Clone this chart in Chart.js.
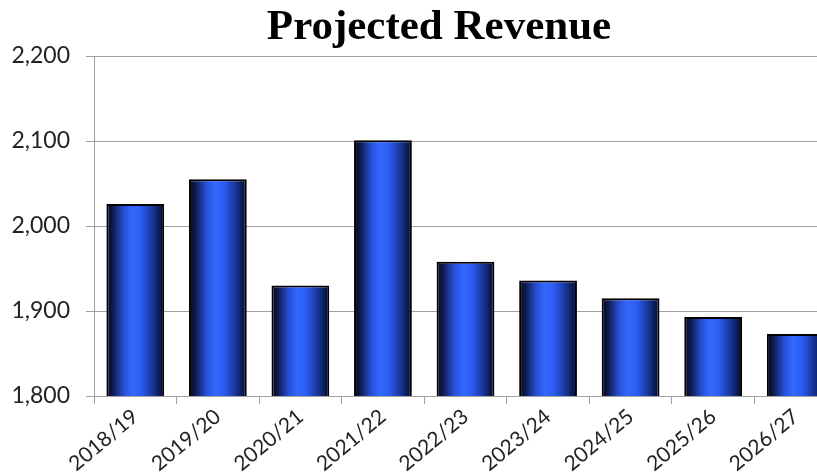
<!DOCTYPE html>
<html>
<head>
<meta charset="utf-8">
<script src="https://cdn.jsdelivr.net/npm/chart.js@4"></script>
<style>
  html, body { margin: 0; padding: 0; background: #fff; overflow: hidden; }
  #wrap { width: 840px; height: 476px; }
</style>
</head>
<body>
<div id="wrap"><canvas id="myChart"></canvas></div>
<script>
const ctx = document.getElementById("myChart");

// data
var years = ["2018/19", "2019/20", "2020/21", "2021/22", "2022/23", "2023/24", "2024/25", "2025/26", "2026/27"];
var revenue = [2026, 2055, 1930, 2101, 1958, 1936, 1915, 1893, 1873];
var yTicks = [1800, 1900, 2000, 2100, 2200];

const titleText = "Projected Revenue";

// bar fill: dark edges, bright blue in the middle
function barFill(context) {
  const chart = context.chart;
  const x = chart.scales.x;
  if (!chart.chartArea || !x) return "#2f5cf0";
  const cx = x.getPixelForValue(context.dataIndex);
  const w = (x.width / years.length) * 0.7;
  const g = chart.ctx.createLinearGradient(cx - w / 2, 0, cx + w / 2, 0);
  g.addColorStop(0, "#03061a");
  g.addColorStop(0.12, "#0f1d58");
  g.addColorStop(0.3, "#2650d8");
  g.addColorStop(0.45, "#3368ff");
  g.addColorStop(0.6, "#2e5cf2");
  g.addColorStop(0.82, "#17338e");
  g.addColorStop(1, "#040820");
  return g;
}

const titlePlugin = {
  id: "bigTitle",
  afterDraw(chart) {
    const c = chart.ctx;
    c.save();
    c.font = "bold 43px 'Liberation Serif'";
    c.fillStyle = "#000";
    c.textAlign = "center";
    c.textBaseline = "alphabetic";
    c.fillText(titleText, 439, 39);
    c.restore();
  },
};

const chart = new Chart(ctx, {
  type: "bar",
  data: {
    labels: years,
    datasets: [
      {
        label: "Revenue",
        data: revenue,
        backgroundColor: barFill,
        borderColor: "#000",
        borderWidth: 2,
        borderSkipped: false,
        barPercentage: 0.7,
        categoryPercentage: 1,
      },
    ],
  },
  plugins: [titlePlugin],
  options: {
    responsive: true,
    maintainAspectRatio: false,
    animation: false,
    layout: { padding: { top: 56, right: 3, left: 0, bottom: 0 } },
    plugins: {
      legend: { display: false },
      tooltip: { enabled: false },
    },
    scales: {
      y: {
        min: 1800,
        max: 2200,
        afterBuildTicks: (s) => { s.ticks = yTicks.map((v) => ({ value: v })); },
        afterFit: (s) => { s.width = 94; },
        border: { color: "#a0a0a0", width: 1 },
        grid: { color: "#a0a0a0", lineWidth: 1, tickLength: 8 },
        ticks: {
          padding: 16,
          color: "#222",
          font: { family: "Lato", size: 23 },
          callback: (v) => v.toLocaleString("en-US"),
        },
      },
      x: {
        afterFit: (s) => { s.height = 80; },
        border: { color: "#a0a0a0", width: 1 },
        grid: { drawOnChartArea: false, color: "#a0a0a0", tickLength: 8, offset: true },
        ticks: {
          color: "#222",
          minRotation: 40,
          maxRotation: 40,
          padding: 0,
          font: { family: "Lato", size: 21 },
        },
      },
    },
  },
});
</script>
</body>
</html>
